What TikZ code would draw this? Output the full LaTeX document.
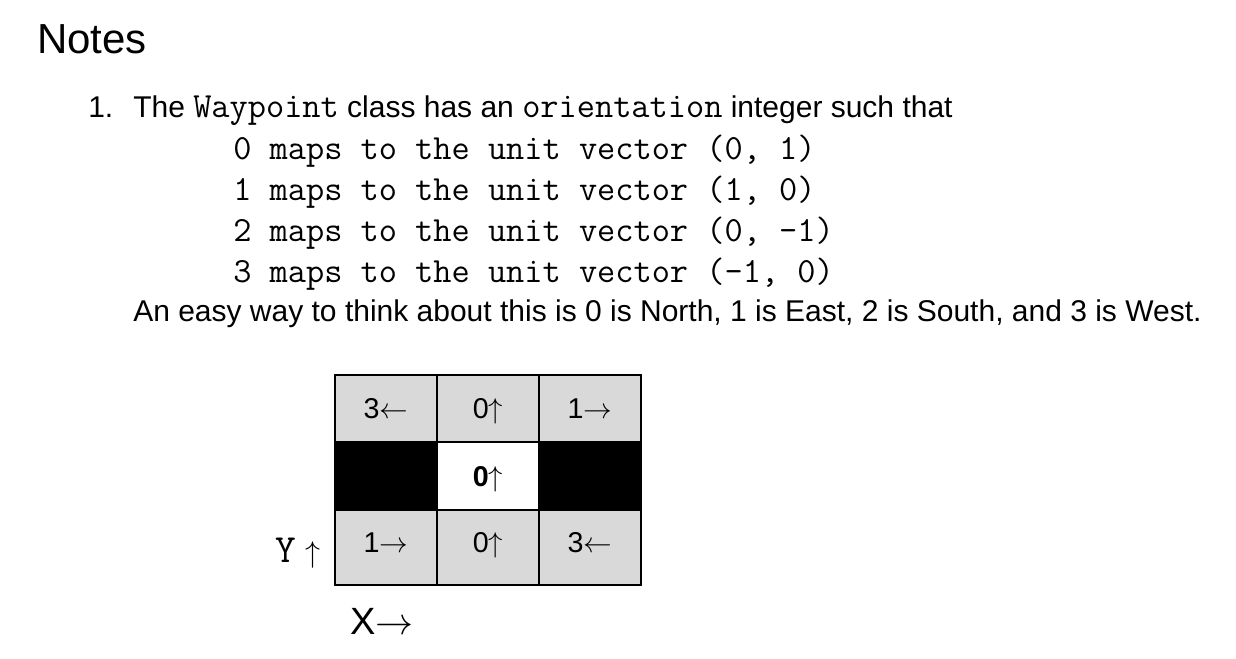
\documentclass[tikz,border=0pt]{standalone}
\usepackage{fix-cm}
\usepackage{fontspec}
\setmainfont{Liberation Sans}
\definecolor{cellgray}{HTML}{D9D9D9}

\begin{document}
\begin{tikzpicture}[x=0.75pt,y=-0.75pt,
  txt/.style={anchor=base west,inner sep=0pt,font=\fontsize{22.5}{27}\selectfont},
  code/.style={txt,font=\ttfamily\fontsize{26.5}{30}\selectfont},
  cell/.style={anchor=base,inner sep=0pt,font=\fontsize{21.5}{25}\selectfont},
  gridline/.style={line width=1.5pt,line cap=rect}]
\useasboundingbox (0,0) rectangle (1236,659);

\node[txt,font=\fontsize{31.5}{36}\selectfont] (title) at (37,54) {Notes};
\node[txt] (num) at (88,118) {1.};
\node[txt] (intro) at (133,118) {The {\ttfamily\fontsize{26.5}{30}\selectfont Waypoint} class has an {\ttfamily\fontsize{26.5}{30}\selectfont orientation} integer such that};
\foreach \d/\v [count=\i from 0] in {0/{(0, 1)},1/{(1, 0)},2/{(0, -1)},3/{(-1, 0)}}
  \node[code] (map\d) at (233,160+\i*40.7) {\d{} maps to the unit vector \v};
\node[txt] (easy) at (133,322) {An easy way to think about this is 0 is North, 1 is East, 2 is South, and 3 is West.};

% the 3x3 grid
\fill[cellgray] (335,375) rectangle (641,585);
\fill[black] (335,442) rectangle (437,510);
\fill[black] (539,442) rectangle (641,510);
\fill[white] (437,442) rectangle (539,510);
\foreach \x in {335,437,539,641} \draw[gridline] (\x,375) -- (\x,585);
\foreach \y in {375,442,510,585} \draw[gridline] (335,\y) -- (641,\y);

\node[cell] (nw) at (386,418) {3$\leftarrow$};
\node[cell] (n) at (488,418) {0$\uparrow$};
\node[cell] (ne) at (590,418) {1$\rightarrow$};
\node[cell] (c) at (488,486) {\textbf{0}$\uparrow$};
\node[cell] (sw) at (386,552) {1$\rightarrow$};
\node[cell] (s) at (488,552) {0$\uparrow$};
\node[cell] (se) at (590,552) {3$\leftarrow$};

\node[txt] (ylab) at (275,562) {{\ttfamily\fontsize{30}{34}\selectfont Y}\hspace{7pt}$\uparrow$};
\node[txt,font=\fontsize{28.5}{34}\selectfont] (xlab) at (350,634) {X$\rightarrow$};

\end{tikzpicture}
\end{document}
